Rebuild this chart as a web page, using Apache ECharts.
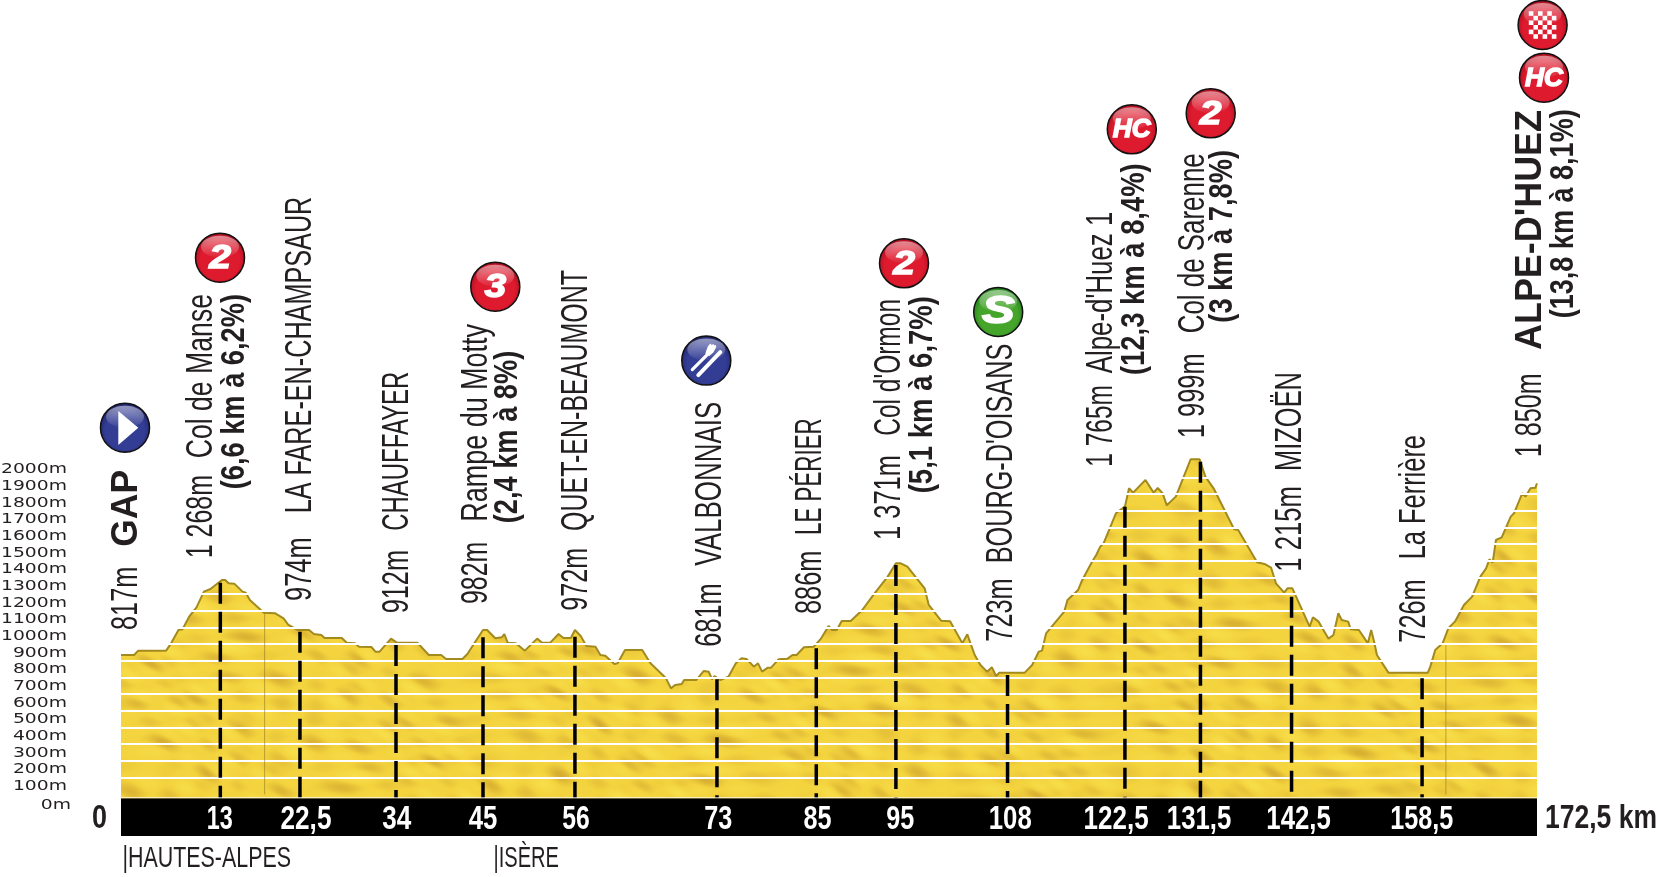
<!DOCTYPE html>
<html><head><meta charset="utf-8">
<style>html,body{margin:0;padding:0;background:#fff}#c{width:1658px;height:877px}</style>
<script src="https://cdn.jsdelivr.net/npm/echarts@6/dist/echarts.min.js"></script>
</head><body><div id="c"></div>
<script>
// ---- DATA ----
const distKm = [0,1.6,2.1,5.5,6.1,7,7.5,8.3,9.2,10.1,10.9,12.3,12.7,13.1,13.8,14.8,15.2,15.7,17.4,18.8,19.8,20.4,21.5,22.9,23.5,24.4,24.8,26.9,27.5,28.5,29,30.5,31,31.5,32.9,33.6,36.1,37.5,39,39.6,41.6,42.2,42.9,44.1,44.6,45.6,46.4,46.7,47.1,48.1,49.2,50.7,51.3,52.3,53.3,53.9,54.8,55.3,56,56.7,57.8,58.4,59,60.1,60.5,61.4,63.5,64.5,66.4,67,67.5,68.3,68.6,70.1,71,71.6,72,72.3,73,74,74.9,75.6,76.2,77.1,77.6,78.1,78.8,79.2,80.1,81.2,81.8,82.3,83.2,84.4,85.3,86.2,86.6,87.2,87.8,88.9,90.3,91.8,93.4,94.4,95,95.8,97.9,98.4,99.9,101,102.5,103.1,104,104.7,105.5,106.1,106.6,107,110.1,111,111.8,112.2,112.7,114.9,115.3,116.6,117.1,118.2,118.8,119.3,119.7,121.2,122.3,122.8,123.3,124.8,125.8,126.3,126.9,127.4,128.5,130.3,131.4,132.1,133.1,135.6,136.1,138.4,139.3,140.1,140.7,141.7,142.1,142.7,143.8,144.8,145.2,145.9,147.1,147.7,148.3,148.7,149.5,149.8,150.8,151.9,152.3,152.7,153,154.4,159.2,159.5,160.1,161,161.7,162.5,163.6,164.6,165.6,166.3,166.7,167.1,167.5,168.2,169.3,169.7,170.7,171.1,171.7,172.3,172.5];
const elevM = [836,836,862,862,906,986,990,1066,1122,1216,1232,1286,1286,1266,1264,1216,1210,1166,1090,1086,1056,1016,986,986,962,956,938,938,910,906,886,884,856,856,934,910,910,836,836,812,812,842,896,986,986,936,942,962,910,906,862,934,910,910,962,938,938,986,950,890,886,836,832,782,786,866,866,786,696,636,656,662,686,686,740,736,690,710,686,706,786,816,812,766,786,736,760,760,810,814,836,836,882,886,936,1010,986,986,1040,1040,1106,1206,1306,1386,1386,1366,1236,1136,1042,1038,906,960,836,776,736,762,710,730,730,776,856,862,966,1096,1166,1226,1286,1386,1436,1486,1506,1686,1726,1836,1810,1886,1810,1838,1806,1734,1786,2010,2010,1906,1836,1590,1586,1392,1382,1360,1266,1210,1236,1236,1116,1006,1062,1036,934,956,1086,1046,1036,990,986,906,986,906,836,730,730,766,866,906,996,1036,1136,1186,1306,1356,1410,1390,1526,1542,1666,1686,1806,1786,1836,1840,1866];
const stemKm  = [12.1,21.8,33.5,44.1,55.3,72.6,84.7,94.4,108,122.3,131.5,142.6,158.5];
const stemTop = [1270,976,896,942,946,690,876,1376,716,1726,1996,1186,696];
const tickLabels = ['13','22,5','34','45','56','73','85','95','108','122,5','131,5','142,5','158,5'];
const yTicks = [0,100,200,300,400,500,600,700,800,900,1000,1100,1200,1300,1400,1500,1600,1700,1800,1900,2000];
const gridLevels = [100,200,300,400,500,600,700,800,900,1000,1100,1200,1300,1400,1500,1600,1700,1800,1900];
const seams = [[17.5,1086],[161.4,896]];
const altitudes = ['817m','1 268m','974m','912m','982m','972m','681m','886m','1 371m','723m','1 765m','1 999m','1 215m','726m','1 850m'];
const places = ['GAP','Col de Manse','LA FARE-EN-CHAMPSAUR','CHAUFFAYER','Rampe du Motty','QUET-EN-BEAUMONT','VALBONNAIS','LE PÉRIER',"Col d'Ormon","BOURG-D'OISANS","Alpe-d'Huez 1",'Col de Sarenne','MIZOËN','La Ferrière',"ALPE-D'HUEZ"];
const climbs = ['(6,6 km à 6,2%)','(2,4 km à 8%)','(5,1 km à 6,7%)','(12,3 km à 8,4%)','(3 km à 7,8%)','(13,8 km à 8,1%)'];
const departments = ['|HAUTES-ALPES','|ISÈRE'];

// ---- LAYOUT (pixels, not data) ----
const altBox = [[125,630,566.7],[200,558.3,475],[299.5,601,537.3],[395.7,613.3,550],[474.7,604,541.7],[575,610.7,547.7],[709,646.7,583.3],[809,614,550.7],[888,540,455],[1000,641.7,578.3],[1099.7,466.7,385],[1191.8,438.3,353.3],[1288.6,571.7,486],[1413,642.7,579.3],[1529,457.3,373.3]];
const placeBox = [[125,546.7,470],[200,458.3,294],[299.5,513.3,196.7],[395.7,530.7,371.7],[474.7,521.7,324],[575,531,270],[709,565.7,401.7],[809,535,418.3],[888,435.7,299],[1000,563.3,343.7],[1099.7,373.3,211.7],[1191.8,333.3,153.3],[1288.6,471,372],[1413,559.3,435],[1529,350,110]];
const climbBox = [[234,489.3,294],[507,523.3,350.7],[921.4,493.3,296],[1134,375,163.3],[1222,322.7,150],[1563,318.3,109.3]];
const tickDx = [-0.7,6,0.8,0,1,1.2,1.2,4.3,2.7,-8.8,-1.4,7,-0.4];
const tickW  = [26,51,29,28.6,27.5,28,28,28,43,65,64.5,64.5,63];
const GRID = {left:121, width:1416, top:444.3, height:366.7};

const SANS = '"Liberation Sans"', NARROW = '"Liberation Sans Narrow","Liberation Sans"';
const mctx = document.createElement('canvas').getContext('2d');
function fitScale(text, font, target){ mctx.font = font; return target / mctx.measureText(text).width; }
function vtext(text, box, font, fill, dx){
  const sc = fitScale(text, font, box[1]-box[2]);
  return {type:'text', x:box[0]+(dx||0), y:box[1], rotation:Math.PI/2, scaleX:sc, z:20, silent:true,
    style:{text, font, fill:fill||'#231f20', align:'left', verticalAlign:'middle'}};
}
function htext(text, x0, x1, yc, font, fill){
  const sc = fitScale(text, font, x1-x0);
  return {type:'text', x:x0, y:yc, scaleX:sc, z:20, silent:true,
    style:{text, font, fill:fill||'#231f20', align:'left', verticalAlign:'middle'}};
}
const REG='36px '+NARROW, BLD='bold 34px '+NARROW, HEAVY='bold 37px '+SANS;
const els=[];
altitudes.forEach((t,i)=>els.push(vtext(t,altBox[i],REG,null,2)));
places.forEach((t,i)=>els.push(vtext(t,placeBox[i],(i===0||i===14)?HEAVY:REG,null,2)));
climbs.forEach((t,i)=>els.push(vtext(t,climbBox[i],BLD,null,1)));
els.push(htext(departments[0],122.5,291,859,'30px '+NARROW));
els.push(htext(departments[1],493.5,559,859,'30px '+NARROW));
els.push(htext('0',92,107,819,'bold 34px '+NARROW));
els.push(htext('172,5 km',1545,1657,819,'bold 34px '+NARROW));

// badges
function badge(cx,cy,kids,inner,outer){
  return {type:'group', x:cx, y:cy, z:20, silent:true, children:[
    {type:'circle', shape:{cx:0,cy:0,r:24.5}, z:20, style:{fill:{type:'radial',x:.5,y:.55,r:.55,colorStops:[{offset:0,color:inner},{offset:.7,color:inner},{offset:1,color:outer}]},stroke:'#111',lineWidth:1.5}},
    {type:'ellipse', shape:{cx:0,cy:-11,rx:19,ry:11}, z:20, style:{fill:{type:'linear',x:0,y:0,x2:0,y2:1,colorStops:[{offset:0,color:'rgba(255,255,255,.5)'},{offset:1,color:'rgba(255,255,255,.03)'}]}}}
  ].concat(kids)};
}
const RED=['#de1a2e','#a50f1f'], BLUE=['#333d94','#1f2568'], GREEN=['#45a52b','#1c7a1c'];
function glyph(t,size,sx){return {type:'text',x:0,y:1,scaleX:sx,z:21,style:{text:t,font:'italic bold '+size+'px '+SANS,fill:'#fff',stroke:'#fff',lineWidth:1.4,align:'center',verticalAlign:'middle'}};}
els.push(badge(220,257.7,[glyph('2',34,1.15)],...RED));
els.push(badge(495.3,286.7,[glyph('3',34,1.15)],...RED));
els.push(badge(904,263.3,[glyph('2',34,1.15)],...RED));
els.push(badge(1131.8,129.3,[glyph('HC',25,1.05)],...RED));
els.push(badge(1210.7,113.3,[glyph('2',34,1.15)],...RED));
els.push(badge(1544,77.7,[glyph('HC',25,1.05)],...RED));
els.push(badge(998.2,312,[glyph('S',38,1.3)],...GREEN));
els.push(badge(125,427.7,[{type:'polygon',z:21,shape:{points:[[-6.7,-16.7],[-6.7,17.3],[13.3,0]]},style:{fill:'#fff'}}],...BLUE));
els.push(badge(706.3,360.6,[
  {type:'line',z:21,shape:{x1:-14,y1:9,x2:3,y2:-8},style:{stroke:'#fff',lineWidth:3.2,lineCap:'round'}},
  {type:'polygon',z:21,shape:{points:[[-1,-7],[1.5,-14],[4,-17],[5.5,-15.5],[7,-16.5],[8.3,-15],[9.5,-15.5],[10,-13.5],[7,-8],[3,-4.5]]},style:{fill:'#fff'}},
  {type:'line',z:21,shape:{x1:-8,y1:14.5,x2:14,y2:-8.5},style:{stroke:'#fff',lineWidth:4,lineCap:'round'}}
],...BLUE));
const checks=[];
for(let r=0;r<6;r++)for(let c=0;c<6;c++){ if((r+c)%2===0) checks.push({type:'rect',z:21,shape:{x:-13.8+c*4.6,y:-13.8+r*4.6,width:4.6,height:4.6},style:{fill:'#fff'}}); }
els.push(badge(1542.6,25,checks,...RED));

// texture of the profile fill
function makeTexture(){
  const W=1658,H=460,cv=document.createElement('canvas');cv.width=W;cv.height=H;
  const g=cv.getContext('2d'),im=g.createImageData(W,H),d=im.data;
  const base=[243,211,62],dark=[209,166,46],light=[249,226,78];
  for(let y=0;y<H;y++)for(let x=0;x<W;x++){
    const a=Math.sin(0.17*(x*0.45-y*0.9)+2.4*Math.sin(x*0.019+y*0.027));
    const b=Math.sin(0.062*x+0.11*y+1.3)+0.5*Math.sin(0.027*x-0.043*y);
    const c=Math.sin(0.34*(x*0.5-y*0.8)+3*Math.sin(0.031*x-0.023*y));
    const s=a*b*0.5+c*b*0.25;
    const to=s>0?dark:light, t=Math.min(1,Math.abs(s)*(s>0?0.75:0.7));
    const i=(y*W+x)*4;
    d[i]=base[0]+(to[0]-base[0])*t;d[i+1]=base[1]+(to[1]-base[1])*t;d[i+2]=base[2]+(to[2]-base[2])*t;d[i+3]=255;
  }
  g.putImageData(im,0,0);return cv;
}

const chart=echarts.init(document.getElementById('c'),null,{renderer:'canvas'});
const yFont='13.7px "DejaVu Sans"';
const yScale=fitScale('2000m',yFont,66);
chart.setOption({
  animation:false, backgroundColor:'#fff',
  grid:{left:GRID.left,width:GRID.width,top:GRID.top,height:GRID.height,containLabel:false},
  xAxis:{type:'value',min:0,max:172.5,show:false},
  yAxis:{type:'value',min:-100,max:2100,interval:100,show:false},
  graphic:{elements:els},
  series:[
    {type:'line',name:'profile',z:2,symbol:'none',smooth:false,
     data:distKm.map((k,i)=>[k,elevM[i]]),
     lineStyle:{color:'#a28a1f',width:2},
     areaStyle:{color:{image:makeTexture(),repeat:'repeat'},opacity:1,origin:'start'}},
    {type:'custom',name:'grid',z:3,silent:true,data:gridLevels.map(v=>[0,v]),
     renderItem(p,api){const a=api.coord([0,api.value(1)]),b=api.coord([172.5,api.value(1)]);
       const y=Math.round(a[1]);
       return {type:'rect',shape:{x:a[0],y:y-1,width:b[0]-a[0],height:2},style:{fill:'#fff'}};}},
    {type:'custom',name:'seams',z:4,silent:true,data:seams,
     renderItem(p,api){const a=api.coord([api.value(0),api.value(1)]),b=api.coord([api.value(0),0]);
       return {type:'line',shape:{x1:a[0],y1:a[1],x2:a[0],y2:b[1]},style:{stroke:'rgba(140,110,30,.55)',lineWidth:1}};}},
    {type:'custom',name:'stems',z:5,silent:true,data:stemKm.map((k,i)=>[k,stemTop[i]]),
     renderItem(p,api){const a=api.coord([api.value(0),api.value(1)]),b=api.coord([api.value(0),-24]);
       return {type:'line',shape:{x1:a[0],y1:a[1],x2:a[0],y2:b[1]},style:{stroke:'#000',lineWidth:3.5,lineDash:[21,8]}};}},
    {type:'custom',name:'bar',z:6,silent:true,data:[[0,-24]],
     renderItem(p,api){const a=api.coord([0,-24]),b=api.coord([172.5,-250]);
       return {type:'group',children:[
         {type:'rect',shape:{x:a[0],y:a[1],width:b[0]-a[0],height:b[1]-a[1]},style:{fill:'#000'}},
         {type:'rect',shape:{x:a[0],y:a[1]-1,width:b[0]-a[0],height:1},style:{fill:'rgba(255,255,255,.85)'}}]};}},
    {type:'custom',name:'ticks',z:7,silent:true,data:stemKm.map(k=>[k,-120]),
     renderItem(p,api){const i=p.dataIndex,c=api.coord([api.value(0),-143]);
       const font='bold 34px '+NARROW,sc=fitScale(tickLabels[i],font,tickW[i]);
       return {type:'text',x:c[0]+tickDx[i],y:c[1]+1,scaleX:sc,
         style:{text:tickLabels[i],font,fill:'#fff',align:'center',verticalAlign:'middle'}};}},
    {type:'custom',name:'yLabels',z:7,silent:true,data:yTicks.map(v=>[0,v]),
     renderItem(p,api){const v=api.value(1),c=api.coord([0,v]);
       return {type:'text',x:v===0?71:67,y:c[1]+(v===0?11.2:8.7),scaleX:yScale,
         style:{text:v+'m',font:yFont,fill:'#231f20',align:'right',verticalAlign:'middle'}};}}
  ]
});
</script></body></html>
